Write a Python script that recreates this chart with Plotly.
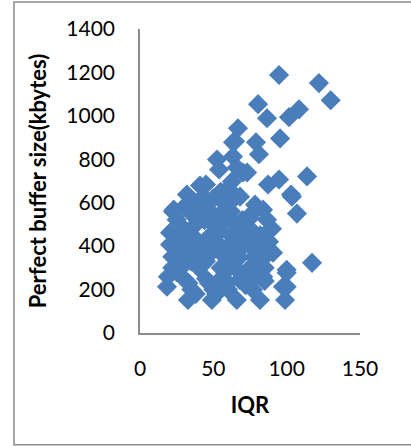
import plotly.graph_objects as go

# IQR values (x) and perfect buffer size in kbytes (y)
iqr = [94.8, 122, 130, 80.5, 108.4, 101.6, 86.6, 66.8, 95.5, 64.8, 79.1, 81.1, 52.5, 63.4,
       70.2, 53.9, 62.7, 87.3, 94.8, 113.9, 32, 40.9, 45, 61.4, 65.5, 103, 103.6, 107,
       117.3, 83.9, 86.6, 86.6, 90.7, 100, 97.5, 98.9, 81.8, 66, 49, 32.7, 77, 68, 84,
       100, 100, 77, 41, 43, 25, 23, 20.5, 20.5, 22, 19, 18.4,
       63.4, 66, 73, 46.4, 59.3, 68.2, 78.4, 53.2, 22.5,
       28, 30, 32, 35, 38, 30, 35, 40, 42, 45, 48, 50, 45, 50, 55, 58, 60, 62, 55, 60,
       65, 68, 70, 72, 65, 70, 75, 78, 72, 80, 75, 80, 82, 35, 28, 25, 25, 38, 52, 58,
       62, 48, 40, 52, 66, 35, 45, 58, 68, 75, 82, 85, 88, 30, 55, 44, 70, 75, 22, 26,
       33, 47, 60, 75, 62, 50, 38, 66, 78, 85, 90, 57, 50, 37, 30, 55, 68, 85]
buffer_kb = [1188, 1151, 1072, 1054, 1030, 994, 989, 943, 896, 883, 878, 823, 799, 813,
             739, 753, 698, 684, 707, 721, 638, 679, 684, 647, 628, 638, 628, 550,
             323, 568, 522, 462, 370, 291, 213, 152, 152, 152, 152, 152, 199, 245, 259,
             213, 277, 555, 582, 628, 522, 568, 462, 407, 351, 259, 213,
             878, 762, 739, 601, 661, 628, 591, 536, 559,
             300, 350, 400, 450, 500, 250, 200, 300, 350, 400, 450, 500, 250, 200, 300, 350,
             400, 450, 250, 200, 300, 350, 400, 450, 500, 250, 300, 350, 220, 400, 480, 300,
             260, 550, 420, 380, 280, 180, 180, 520, 560, 560, 420, 420, 420, 330, 330, 280,
             280, 420, 450, 350, 420, 480, 470, 520, 520, 530, 300, 440, 230, 230, 230, 230,
             330, 380, 380, 380, 380, 300, 480, 600, 620, 600, 580, 650, 480, 240]

x_ticks = [0, 50, 100, 150]
y_ticks = [0, 200, 400, 600, 800, 1000, 1200, 1400]

FONT = "Lato, 'Open Sans', sans-serif"
AXIS_GRAY = "#8c8c8c"

fig = go.Figure(go.Scatter(
    x=iqr, y=buffer_kb, mode="markers",
    marker=dict(symbol="diamond", size=15.5, color="#4A7EBB", line=dict(width=0)),
    hoverinfo="x+y",
))

fig.update_layout(
    width=411, height=446,
    margin=dict(l=140, r=51, t=29, b=113),
    paper_bgcolor="white", plot_bgcolor="white",
    showlegend=False,
    font=dict(family=FONT, size=21, color="black"),
    xaxis=dict(
        range=[0, 150], tickvals=x_ticks, ticktext=[str(v) for v in x_ticks],
        showgrid=False, zeroline=False, showline=True, linecolor=AXIS_GRAY, linewidth=1.5,
        ticks="", ticklabelstandoff=16, automargin=False,
        tickfont=dict(family=FONT, size=21),
        title=dict(text="<b>IQR</b>", font=dict(family=FONT, size=22), standoff=19),
    ),
    yaxis=dict(
        range=[0, 1400], tickvals=y_ticks, ticktext=[str(v) for v in y_ticks],
        showgrid=False, zeroline=False, showline=True, linecolor=AXIS_GRAY, linewidth=1.5,
        ticks="", ticklabelstandoff=19, automargin=False,
        tickfont=dict(family=FONT, size=21),
        title=dict(text="<b>Perfect buffer size(kbytes)</b>", font=dict(family=FONT, size=22),
                   standoff=14),
    ),
    shapes=[dict(type="rect", xref="paper", yref="paper",
                 x0=-0.5727, x1=1.3, y0=-0.368, y1=1.089,
                 line=dict(color="#8a8a8a", width=1.5), fillcolor="rgba(0,0,0,0)",
                 layer="below")],
)

fig.write_html("out.html", config={"displayModeBar": False},
               post_script="document.body.style.margin='0';document.body.style.overflow='hidden';")
